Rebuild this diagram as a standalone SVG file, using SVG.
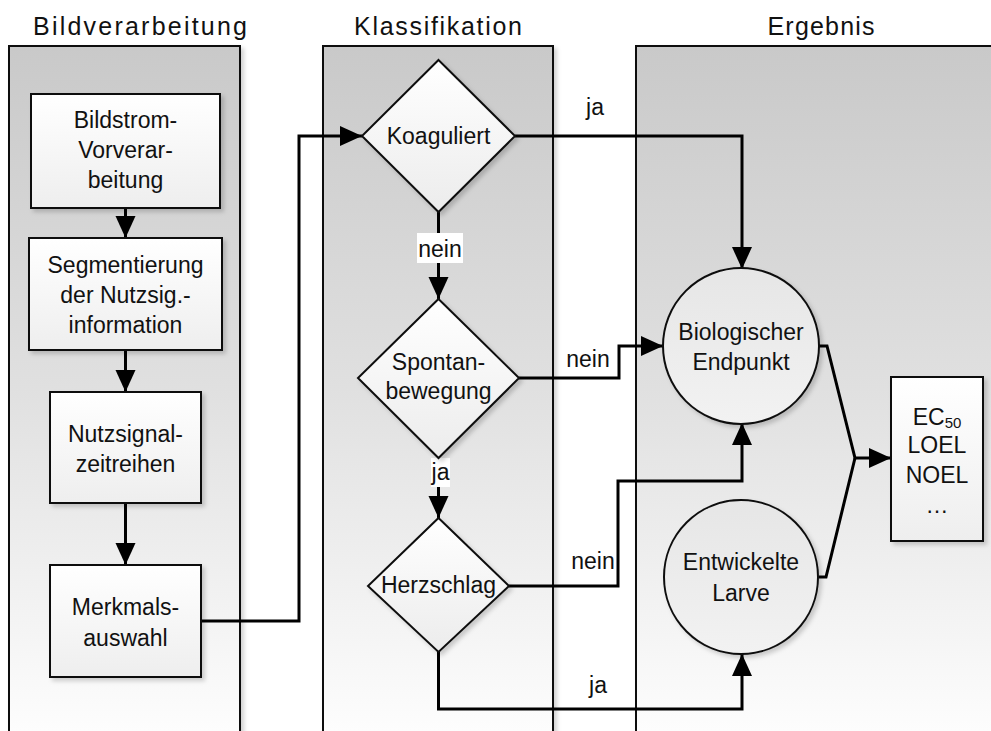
<svg xmlns="http://www.w3.org/2000/svg" width="991" height="731" viewBox="0 0 991 731">
<style>
text{font-family:"Liberation Sans",Arial,sans-serif;fill:#111;}
.title{font-size:25px;text-anchor:middle;}
.t{font-size:23px;text-anchor:middle;}
.lane{fill:url(#laneGrad);stroke:#111;stroke-width:2;filter:url(#shadow);}
.box{fill:url(#boxGrad);stroke:#111;stroke-width:2;filter:url(#shadow);}
.dia{fill:url(#diaGrad);stroke:#111;stroke-width:2;filter:url(#shadow);}
.circ{fill:url(#circGrad);stroke:#111;stroke-width:2;filter:url(#shadow);}
.con{fill:none;stroke:#000;stroke-width:3;}
.arr{marker-end:url(#ah);}
.lblbg{fill:#fff;}
</style>
<defs>
<linearGradient id="laneGrad" gradientUnits="userSpaceOnUse" x1="0" y1="46" x2="0" y2="731">
<stop offset="0" stop-color="#c9c9c9"/>
<stop offset="0.5" stop-color="#e0e0e0"/>
<stop offset="1" stop-color="#fdfdfd"/>
</linearGradient>
<linearGradient id="boxGrad" x1="0" y1="0" x2="0" y2="1">
<stop offset="0" stop-color="#ffffff"/>
<stop offset="1" stop-color="#eeeeee"/>
</linearGradient>
<linearGradient id="diaGrad" x1="0" y1="0" x2="0" y2="1">
<stop offset="0" stop-color="#ffffff"/>
<stop offset="1" stop-color="#ececec"/>
</linearGradient>
<linearGradient id="circGrad" x1="0" y1="0" x2="0" y2="1">
<stop offset="0" stop-color="#e6e6e6"/>
<stop offset="1" stop-color="#f2f2f2"/>
</linearGradient>
<filter id="shadow" x="-10%" y="-10%" width="130%" height="130%">
<feDropShadow dx="3" dy="3" stdDeviation="2" flood-color="#000" flood-opacity="0.18"/>
</filter>
<marker id="ah" markerUnits="userSpaceOnUse" markerWidth="24" markerHeight="22" refX="22" refY="10" orient="auto">
<path d="M0,0 L22,10 L0,20 Z" fill="#000"/>
</marker>
</defs>

<g id="lanes">
<g id="lane-bildverarbeitung">
<rect class="lane" x="9" y="46" width="231" height="700"/>
<text class="title" x="140" y="35" textLength="214" lengthAdjust="spacing">Bildverarbeitung</text>
</g>
<g id="lane-klassifikation">
<rect class="lane" x="323" y="46" width="230" height="700"/>
<text class="title" x="438" y="35" textLength="168" lengthAdjust="spacing">Klassifikation</text>
</g>
<g id="lane-ergebnis">
<rect class="lane" x="636" y="46" width="370" height="700"/>
<text class="title" x="821" y="35" textLength="107" lengthAdjust="spacing">Ergebnis</text>
</g>
</g>

<g id="connectors">
<path class="con arr" d="M125.5,208 V238"/>
<path class="con arr" d="M125.5,350 V392"/>
<path class="con arr" d="M125.5,503 V565"/>
<path class="con arr" d="M201,621 H299 V136 H362"/>
<path class="con arr" d="M438.5,212 V299"/>
<path class="con arr" d="M438.5,458 V518"/>
<path class="con arr" d="M515,136 H742 V269"/>
<path class="con arr" d="M519,378 H619 V346 H663"/>
<path class="con arr" d="M509,586 H618 V481 H742 V423"/>
<path class="con arr" d="M438.5,652 V709 H742 V654"/>
<path class="con arr" d="M819,346 H827 L855,458 H891"/>
<path class="con" d="M819,577 H826 L855,458"/>
<g id="labels">
<text class="t" x="595" y="115">ja</text>
<rect class="lblbg" x="417" y="233" width="46" height="30"/>
<text class="t" x="440" y="257">nein</text>
<text class="t" x="588" y="367">nein</text>
<rect class="lblbg" x="431" y="458" width="19" height="29"/>
<text class="t" x="440.5" y="480">ja</text>
<text class="t" x="593" y="569">nein</text>
<text class="t" x="598" y="693">ja</text>
</g>
</g>

<g id="bildstrom">
<rect class="box" x="31" y="94" width="189" height="114"/>
<text class="t" x="125.5" y="128">Bildstrom-</text>
<text class="t" x="125.5" y="158">Vorverar-</text>
<text class="t" x="125.5" y="188">beitung</text>
</g>
<g id="segmentierung">
<rect class="box" x="29" y="238" width="193" height="112"/>
<text class="t" x="125.5" y="273">Segmentierung</text>
<text class="t" x="125.5" y="303">der Nutzsig.-</text>
<text class="t" x="125.5" y="333">information</text>
</g>
<g id="nutzsignal">
<rect class="box" x="50" y="392" width="151" height="111"/>
<text class="t" x="125.5" y="442">Nutzsignal-</text>
<text class="t" x="125.5" y="472">zeitreihen</text>
</g>
<g id="merkmal">
<rect class="box" x="50" y="565" width="151" height="112"/>
<text class="t" x="125.5" y="615">Merkmals-</text>
<text class="t" x="125.5" y="646">auswahl</text>
</g>

<g id="koaguliert">
<polygon class="dia" points="438.5,60 515,136 438.5,212 362,136"/>
<text class="t" x="438.5" y="144">Koaguliert</text>
</g>
<g id="spontan">
<polygon class="dia" points="438.5,299 519,378 438.5,458 358,378"/>
<text class="t" x="438.5" y="370">Spontan-</text>
<text class="t" x="438.5" y="399">bewegung</text>
</g>
<g id="herzschlag">
<polygon class="dia" points="438.5,518 509,586 438.5,652 368,586"/>
<text class="t" x="438.5" y="593">Herzschlag</text>
</g>

<g id="biologisch">
<circle class="circ" cx="741" cy="346" r="78"/>
<text class="t" x="741" y="340">Biologischer</text>
<text class="t" x="741" y="370">Endpunkt</text>
</g>
<g id="entwickelt">
<circle class="circ" cx="741" cy="577" r="77"/>
<text class="t" x="741" y="570">Entwickelte</text>
<text class="t" x="741" y="601">Larve</text>
</g>

<g id="ergebnis">
<rect class="box" x="891" y="377" width="92" height="164"/>
<text class="t" x="937" y="425">EC<tspan font-size="15" dy="3">50</tspan></text>
<text class="t" x="937" y="453">LOEL</text>
<text class="t" x="937" y="483">NOEL</text>
<text class="t" x="937" y="513">…</text>
</g>
</svg>
